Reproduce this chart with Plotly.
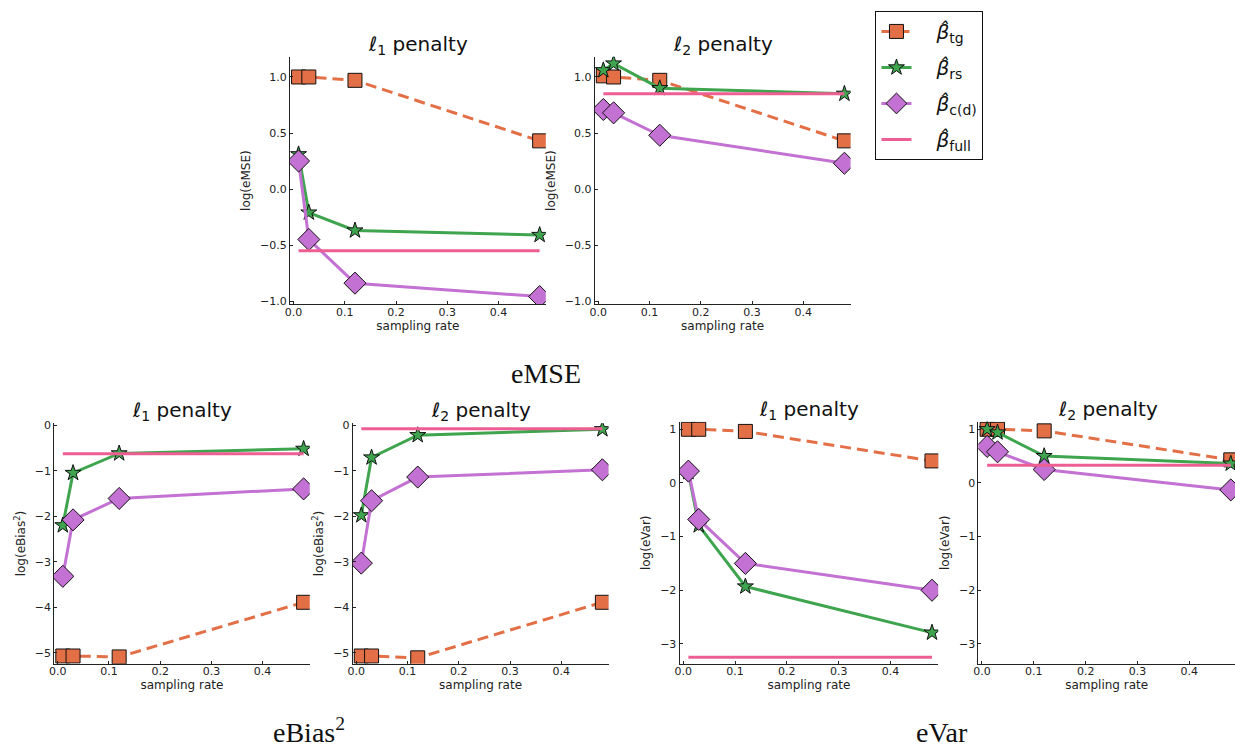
import plotly.graph_objects as go

W, H = 1235, 747

# ---------------- data ----------------
sampling_rate = [0.01, 0.03, 0.12, 0.48]

emse_l1_tg = [1.00, 1.00, 0.97, 0.43]
emse_l1_rs = [0.31, -0.21, -0.37, -0.41]
emse_l1_cd = [0.25, -0.45, -0.84, -0.96]
emse_l1_full = -0.55

emse_l2_tg = [1.01, 1.00, 0.97, 0.43]
emse_l2_rs = [1.06, 1.12, 0.90, 0.85]
emse_l2_cd = [0.71, 0.68, 0.48, 0.23]
emse_l2_full = 0.85

ebias_l1_tg = [-5.07, -5.07, -5.09, -3.89]
ebias_l1_rs = [-2.20, -1.05, -0.62, -0.52]
ebias_l1_cd = [-3.32, -2.08, -1.61, -1.40]
ebias_l1_full = -0.63

ebias_l2_tg = [-5.07, -5.07, -5.11, -3.89]
ebias_l2_rs = [-1.98, -0.71, -0.22, -0.09]
ebias_l2_cd = [-3.03, -1.66, -1.14, -0.98]
ebias_l2_full = -0.08

evar_l1_tg = [1.00, 1.00, 0.96, 0.41]
evar_l1_rs = [0.20, -0.79, -1.93, -2.79]
evar_l1_cd = [0.22, -0.68, -1.50, -2.00]
evar_l1_full = -3.25

evar_l2_tg = [1.00, 1.00, 0.97, 0.43]
evar_l2_rs = [1.00, 0.94, 0.50, 0.36]
evar_l2_cd = [0.68, 0.58, 0.25, -0.13]
evar_l2_full = 0.33

x_ticks = [0.0, 0.1, 0.2, 0.3, 0.4]
emse_ticks = [-1.0, -0.5, 0.0, 0.5, 1.0]
ebias_ticks = [-5, -4, -3, -2, -1, 0]
evar_ticks = [-3, -2, -1, 0, 1]

panel_titles = ["ℓ<sub>1</sub> penalty", "ℓ<sub>2</sub> penalty"]
series_names = ["\u2003<i>β̂</i><sub>tg</sub>", "\u2003<i>β̂</i><sub>rs</sub>",
                "\u2003<i>β̂</i><sub>c(d)</sub>", "\u2003<i>β̂</i><sub>full</sub>"]
captions = ["eMSE", "eBias<sup>2</sup>", "eVar"]

# ---------------- style ----------------
C_TG, C_RS, C_CD, C_FULL = "#E36F47", "#3EA44E", "#C371D2", "#ED5E93"
FONT = "DejaVu Sans"
AX = "#222222"

# panels: (data, ylabel, yticks, yfmt, yrange, pixel box [l, r, top, bottom], title)
panels = [
    ((emse_l1_tg, emse_l1_rs, emse_l1_cd, emse_l1_full), "log(eMSE)", emse_ticks, ".1f",
     [-1.03, 1.18], (286, 543, 53.3, 303.3), panel_titles[0]),
    ((emse_l2_tg, emse_l2_rs, emse_l2_cd, emse_l2_full), "log(eMSE)", emse_ticks, ".1f",
     [-1.03, 1.18], (592, 849, 53.3, 303.3), panel_titles[1]),
    ((ebias_l1_tg, ebias_l1_rs, ebias_l1_cd, ebias_l1_full), "log(eBias<sup>2</sup>)", ebias_ticks, "d",
     [-5.24, 0.04], (49.3, 306, 423.3, 666), panel_titles[0]),
    ((ebias_l2_tg, ebias_l2_rs, ebias_l2_cd, ebias_l2_full), "log(eBias<sup>2</sup>)", ebias_ticks, "d",
     [-5.24, 0.04], (349, 606, 423.3, 666), panel_titles[1]),
    ((evar_l1_tg, evar_l1_rs, evar_l1_cd, evar_l1_full), "log(eVar)", evar_ticks, "d",
     [-3.37, 1.14], (677.3, 937, 421.7, 666), panel_titles[0]),
    ((evar_l2_tg, evar_l2_rs, evar_l2_cd, evar_l2_full), "log(eVar)", evar_ticks, "d",
     [-3.37, 1.14], (977.3, 1235, 421.7, 666), panel_titles[1]),
]

fig = go.Figure()
layout = {}
annotations = []

for i, (data, ylab, yt, yfmt, yr, box, title) in enumerate(panels):
    n = i + 1
    xa = "x" if n == 1 else f"x{n}"
    ya = "y" if n == 1 else f"y{n}"
    l, r, t, b = box
    tg, rs, cd, full = data
    show = (i == 0)

    fig.add_trace(go.Scatter(
        x=sampling_rate, y=tg, xaxis=xa, yaxis=ya, mode="lines+markers",
        name=series_names[0], legendgroup="tg", showlegend=show,
        line=dict(color=C_TG, width=3, dash="11px,6px"),
        marker=dict(symbol="square", size=14, color=C_TG, line=dict(color="#111", width=1))))
    fig.add_trace(go.Scatter(
        x=sampling_rate, y=rs, xaxis=xa, yaxis=ya, mode="lines+markers",
        name=series_names[1], legendgroup="rs", showlegend=show,
        line=dict(color=C_RS, width=3),
        marker=dict(symbol="star", size=12, color=C_RS, line=dict(color="#111", width=1))))
    fig.add_trace(go.Scatter(
        x=sampling_rate, y=cd, xaxis=xa, yaxis=ya, mode="lines+markers",
        name=series_names[2], legendgroup="cd", showlegend=show,
        line=dict(color=C_CD, width=3),
        marker=dict(symbol="diamond", size=17, color=C_CD, line=dict(color="#111", width=1))))
    fig.add_trace(go.Scatter(
        x=sampling_rate, y=[full] * len(sampling_rate), xaxis=xa, yaxis=ya, mode="lines",
        name=series_names[3], legendgroup="full", showlegend=show,
        line=dict(color=C_FULL, width=3)))

    xr = [-0.007, 0.492] if r < W else [-0.007, 0.492 - (1237 - W) / 518]
    layout["xaxis" if n == 1 else f"xaxis{n}"] = dict(
        domain=[l / W, r / W], anchor=ya, range=xr, tickvals=x_ticks, tickformat=".1f",
        showline=True, linecolor=AX, linewidth=1, ticks="inside", ticklen=3, tickcolor=AX,
        showgrid=False, zeroline=False, tickfont=dict(family=FONT, size=11, color=AX),
        ticklabelstandoff=-3,
        title=dict(text="sampling rate", font=dict(family=FONT, size=12, color=AX), standoff=1))
    layout["yaxis" if n == 1 else f"yaxis{n}"] = dict(
        domain=[1 - b / H, 1 - t / H], anchor=xa, range=yr, tickvals=yt, tickformat=yfmt,
        showline=True, linecolor=AX, linewidth=1, ticks="inside", ticklen=3, tickcolor=AX,
        showgrid=False, zeroline=False, tickfont=dict(family=FONT, size=11, color=AX),
        title=dict(text=ylab, font=dict(family=FONT, size=12, color=AX), standoff=6))
    annotations.append(dict(
        text=title, x=(l + (r if r < W else 1237)) / 2 / W,
        y=1 - (t - 12) / H, xref="paper", yref="paper", xanchor="center", yanchor="middle",
        showarrow=False, font=dict(family=FONT, size=20, color="#111")))

cap_pos = [(543, 373), (305, 733), (941, 735)]
for txt, (cx, cy) in zip(captions, cap_pos):
    annotations.append(dict(
        text=txt, x=cx / W, y=1 - cy / H, xref="paper", yref="paper",
        xanchor="center", yanchor="middle", showarrow=False,
        font=dict(family="Liberation Serif", size=28, color="#111")))

fig.update_layout(
    **layout,
    annotations=annotations,
    width=W, height=H,
    margin=dict(l=0, r=0, t=0, b=0),
    paper_bgcolor="white", plot_bgcolor="white",
    showlegend=True,
    legend=dict(x=874 / W, y=1 - 7 / H, xanchor="left", yanchor="top",
                bgcolor="white", bordercolor="#111", borderwidth=1,
                font=dict(family=FONT, size=20, color="#111"),
                tracegroupgap=7, traceorder="grouped"),
)

fig.write_html("out.html", config={"displayModeBar": False},
               post_script="document.body.style.margin='0';document.body.style.overflow='hidden';")
